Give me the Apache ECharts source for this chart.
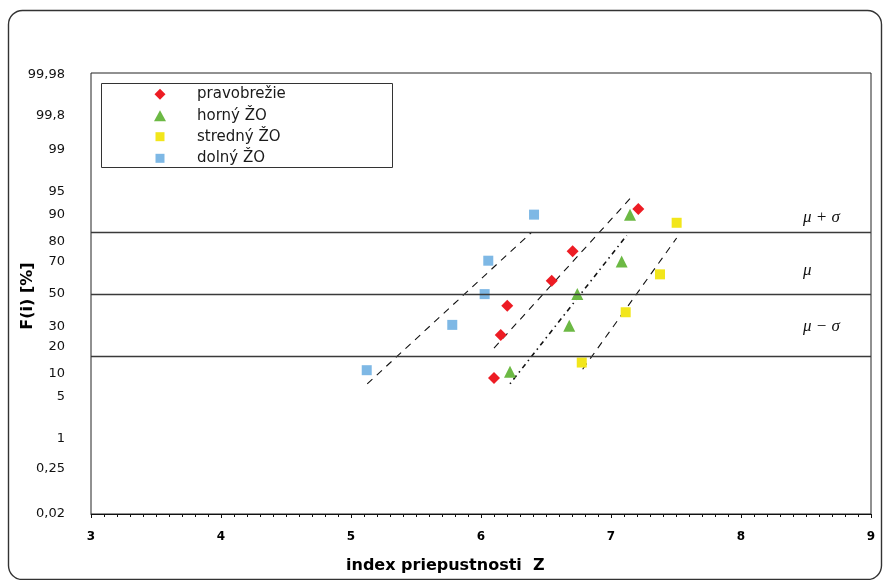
<!DOCTYPE html>
<html>
<head>
<meta charset="utf-8">
<script src="https://cdn.jsdelivr.net/npm/echarts@6/dist/echarts.min.js"></script>
<style>
  html, body { margin: 0; padding: 0; background: #fff; }
  #chart { width: 884px; height: 580px; }
</style>
</head>
<body>
<div id="chart"></div>
<script>
// Cumulative frequency F(i) [%] of the permeability index Z, on a normal probability scale

const seriesNames = ['pravobrežie', 'horný ŽO', 'stredný ŽO', 'dolný ŽO'];

const pravobrezieZ = [6.100, 6.152, 6.202, 6.544, 6.705, 7.210];
const pravobrezieF = [8.8, 25.5, 42.5, 58.5, 75.5, 91.5];

const hornyZ = [6.223, 6.679, 6.741, 7.082, 7.146];
const hornyF = [10.5, 30.5, 50, 70, 90];

const strednyZ = [6.775, 7.113, 7.377, 7.505];
const strednyF = [13.5, 38.5, 62.5, 87.5];

const dolnyZ = [5.121, 5.779, 6.028, 6.056, 6.408];
const dolnyF = [11, 31, 50, 70.5, 90];

// fitted straight lines, start and end point
const pravobrezieFitZ = [6.100, 7.172];
const pravobrezieFitF = [19.2, 94.5];
const hornyFitZ = [6.223, 7.121];
const hornyFitF = [7.4, 82.8];
const strednyFitZ = [6.782, 7.505];
const strednyFitF = [11.3, 81.7];
const dolnyFitZ = [5.125, 6.390];
const dolnyFitF = [7.4, 84.1];

// probability axis ticks
const yTickF = [0.02, 0.25, 1, 5, 10, 20, 30, 50, 70, 80, 90, 95, 99, 99.8, 99.98];
const yTickLabels = ['0,02', '0,25', '1', '5', '10', '20', '30', '50', '70', '80', '90', '95', '99', '99,8', '99,98'];

// x axis range
const xMin = 3;
const xMax = 9;

// reference levels mu+sigma, mu, mu-sigma (as cumulative %)
const refF = [84.13, 50, 15.87];
const refNames = ['μ + σ', 'μ', 'μ − σ'];

// inverse of the standard normal CDF (Acklam), percent in -> z out
function probit(pct) {
  const p = pct / 100;
  const a = [-3.969683028665376e+01, 2.209460984245205e+02, -2.759285104469687e+02, 1.383577518672690e+02, -3.066479806614716e+01, 2.506628277459239e+00];
  const b = [-5.447609879822406e+01, 1.615858368580409e+02, -1.556989798598866e+02, 6.680131188771972e+01, -1.328068155288572e+01];
  const c = [-7.784894002430293e-03, -3.223964580411365e-01, -2.400758277161838e+00, -2.549732539343734e+00, 4.374664141464968e+00, 2.938163982698783e+00];
  const d = [7.784695709041462e-03, 3.224671290700398e-01, 2.445134137142996e+00, 3.754408661907416e+00];
  const pl = 0.02425, ph = 1 - pl;
  let q, r;
  if (p < pl) {
    q = Math.sqrt(-2 * Math.log(p));
    return (((((c[0] * q + c[1]) * q + c[2]) * q + c[3]) * q + c[4]) * q + c[5]) / ((((d[0] * q + d[1]) * q + d[2]) * q + d[3]) * q + 1);
  }
  if (p > ph) {
    q = Math.sqrt(-2 * Math.log(1 - p));
    return -(((((c[0] * q + c[1]) * q + c[2]) * q + c[3]) * q + c[4]) * q + c[5]) / ((((d[0] * q + d[1]) * q + d[2]) * q + d[3]) * q + 1);
  }
  q = p - 0.5;
  r = q * q;
  return (((((a[0] * r + a[1]) * r + a[2]) * r + a[3]) * r + a[4]) * r + a[5]) * q / (((((b[0] * r + b[1]) * r + b[2]) * r + b[3]) * r + b[4]) * r + 1);
}

const pairs = (zs, fs) => zs.map((z, i) => [z, probit(fs[i])]);
const yTickZ = yTickF.map(probit);

const colors = ['#ED1C24', '#6CB944', '#F2E61B', '#7EB8E5'];
const symbols = ['diamond', 'triangle', 'rect', 'rect'];
const symbolSizes = [12, 12, 10, 10];
const pointSets = [
  pairs(pravobrezieZ, pravobrezieF),
  pairs(hornyZ, hornyF),
  pairs(strednyZ, strednyF),
  pairs(dolnyZ, dolnyF)
];
const fitSets = [
  pairs(pravobrezieFitZ, pravobrezieFitF),
  pairs(hornyFitZ, hornyFitF),
  pairs(strednyFitZ, strednyFitF),
  pairs(dolnyFitZ, dolnyFitF)
];
const fitDash = [[7, 6], [1.5, 4, 5, 4], [7, 6], [7, 6]];
const fitWidth = [1.1, 1.6, 1.1, 1.1];

const chart = echarts.init(document.getElementById('chart'), null, { renderer: 'canvas' });

const fitSeries = fitSets.map((pts, i) => ({
  type: 'line',
  name: 'fit' + i,
  data: pts,
  symbol: 'none',
  silent: true,
  z: 2,
  lineStyle: { color: '#111', width: fitWidth[i], type: fitDash[i] }
}));

const pointSeries = pointSets.map((pts, i) => ({
  type: 'scatter',
  name: seriesNames[i],
  data: pts,
  symbol: symbols[i],
  symbolSize: symbolSizes[i],
  itemStyle: { color: colors[i], opacity: 1 },
  z: 4
}));

const refLift = [6, 15, 21];
const refSeries = {
  type: 'line',
  name: 'ref',
  data: [],
  silent: true,
  markLine: {
    silent: true,
    symbol: 'none',
    animation: false,
    lineStyle: { color: '#3a3a3a', width: 1.4, type: 'solid' },
    label: {
      position: 'insideEndTop',
      align: 'left',
      fontFamily: 'Liberation Serif',
      fontStyle: 'italic',
      fontSize: 17,
      color: '#111'
    },
    data: refF.map((f, i) => ({
      yAxis: probit(f),
      label: { formatter: refNames[i], distance: [68, refLift[i]] }
    }))
  }
};

const legendIcon = [
  { w: 11, h: 11 },
  { w: 12, h: 11 },
  { w: 9, h: 9 },
  { w: 9, h: 9 }
];
const legendRowY = [94.3, 115.7, 136.7, 158.3];

const legends = seriesNames.map((n, i) => ({
  data: [{ name: n, icon: symbols[i] }],
  orient: 'vertical',
  left: 160 - legendIcon[i].w / 2,
  top: legendRowY[i] - 7.5,
  padding: 0,
  itemWidth: legendIcon[i].w,
  itemHeight: legendIcon[i].h,
  selectedMode: false,
  textStyle: {
    fontFamily: 'DejaVu Sans',
    fontSize: 15,
    color: '#1a1a1a',
    padding: [0, 0, 0, 32 - legendIcon[i].w / 2]
  }
}));

chart.setOption({
  animation: false,
  backgroundColor: '#fff',
  title: {
    text: 'index priepustnosti  Z',
    left: 346,
    top: 558,
    padding: 0,
    textStyle: { fontFamily: 'DejaVu Sans', fontWeight: 'bold', fontSize: 16, color: '#000' }
  },
  legend: legends,
  grid: {
    left: 91, right: 13, top: 73, bottom: 66,
    show: true,
    borderColor: '#222',
    borderWidth: 1,
    backgroundColor: 'transparent'
  },
  xAxis: {
    type: 'value',
    min: xMin,
    max: xMax,
    interval: 1,
    axisLine: { show: true, onZero: false, lineStyle: { color: '#111', width: 1 } },
    axisTick: { show: true, length: 4, lineStyle: { color: '#111' } },
    minorTick: { show: true, splitNumber: 10, length: 3, lineStyle: { color: '#111' } },
    splitLine: { show: false },
    axisLabel: {
      margin: 17,
      color: '#000',
      fontFamily: 'DejaVu Sans',
      fontWeight: 'bold',
      fontSize: 12
    }
  },
  yAxis: {
    type: 'value',
    min: -3.545,
    max: 3.565,
    axisLine: { show: false },
    axisTick: { show: false },
    splitLine: { show: false },
    axisLabel: {
      customValues: yTickZ,
      margin: 26,
      color: '#111',
      fontFamily: 'DejaVu Sans',
      fontSize: 13,
      formatter: function (v) {
        let best = 0;
        for (let i = 1; i < yTickZ.length; i++) {
          if (Math.abs(yTickZ[i] - v) < Math.abs(yTickZ[best] - v)) best = i;
        }
        return yTickLabels[best];
      }
    }
  },
  graphic: [
    {
      type: 'rect',
      silent: true,
      shape: { x: 8.5, y: 10.5, width: 873, height: 569, r: 14 },
      style: { fill: 'none', stroke: '#333', lineWidth: 1.4 }
    },
    {
      type: 'rect',
      silent: true,
      z: 10,
      shape: { x: 101.5, y: 83.5, width: 291, height: 84 },
      style: { fill: 'none', stroke: '#333', lineWidth: 1 }
    },
    {
      type: 'text',
      silent: true,
      x: 28,
      y: 296,
      rotation: Math.PI / 2,
      style: {
        text: 'F(i) [%]',
        font: 'bold 16px "DejaVu Sans"',
        fill: '#000',
        align: 'center',
        verticalAlign: 'middle'
      }
    }
  ],
  series: [refSeries].concat(fitSeries, pointSeries)
});
</script>
</body>
</html>
